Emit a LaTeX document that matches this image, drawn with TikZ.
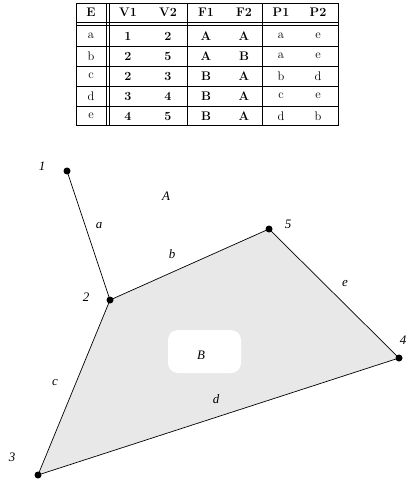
\documentclass[tikz,border=0pt]{standalone}
\usepackage{fontspec}
\newfontfamily\lblfont{Liberation Serif}
\begin{document}
\begin{tikzpicture}[x=1bp,y=-1bp,
  tline/.style={line width=0.8bp},
  cell/.style={inner sep=0pt,font=\fontsize{12.5}{14}\selectfont},
  bcell/.style={cell,font=\fontsize{12.5}{14}\selectfont\bfseries},
  vtx/.style={circle,fill=black,inner sep=0pt,minimum size=7bp},
  vlab/.style={font=\lblfont\itshape\fontsize{13}{15}\selectfont,inner sep=0pt},
  elab/.style={font=\lblfont\itshape\fontsize{13}{15}\selectfont,inner sep=0pt},
  edge/.style={line width=0.7bp}]
\useasboundingbox (0,0) rectangle (411,487);
% ---- table ----
\draw[tline] (76,3) rectangle (338,125);
\draw[tline] (76,22) -- (338,22);
\draw[tline] (76,25) -- (338,25);
\foreach \y in {46,66,86,106} \draw[tline] (76,\y) -- (338,\y);
\draw[tline] (106,3) -- (106,125);
\draw[tline] (109,3) -- (109,125);
\draw[tline] (187,3) -- (187,125);
\draw[tline] (262,3) -- (262,125);
% header
\node[bcell] (hE) at (91,12.5) {E};
\node[bcell] (hV1) at (128,12.5) {V1};
\node[bcell] (hV2) at (168,12.5) {V2};
\node[bcell] (hF1) at (206,12.5) {F1};
\node[bcell] (hF2) at (244,12.5) {F2};
\node[bcell] (hP1) at (281,12.5) {P1};
\node[bcell] (hP2) at (318,12.5) {P2};
% rows
\foreach \e/\va/\vb/\fa/\fb/\pa/\pb/\y [count=\i] in
  {a/1/2/A/A/a/e/36, b/2/5/A/B/a/e/56, c/2/3/B/A/b/d/76, d/3/4/B/A/c/e/96, e/4/5/B/A/d/b/116}{
  \node[cell] (rE\i) at (91,\y) {\e};
  \node[bcell] (rVa\i) at (128,\y) {\va};
  \node[bcell] (rVb\i) at (168,\y) {\vb};
  \node[bcell] (rFa\i) at (206,\y) {\fa};
  \node[bcell] (rFb\i) at (244,\y) {\fb};
  \node[cell] (rPa\i) at (281,\y) {\pa};
  \node[cell] (rPb\i) at (318,\y) {\pb};
}
% ---- graph ----
\coordinate (p1) at (67,171);
\coordinate (p2) at (110,300);
\coordinate (p5) at (269,229);
\coordinate (p4) at (399,358);
\coordinate (p3) at (38,475);
\fill[black!9] (p2) -- (p5) -- (p4) -- (p3) -- cycle;
\fill[white,rounded corners=10bp] (168,330) rectangle (241,373);
\draw[edge] (p1) -- (p2);
\draw[edge] (p2) -- (p5);
\draw[edge] (p5) -- (p4);
\draw[edge] (p4) -- (p3);
\draw[edge] (p3) -- (p2);
\node[vtx] (v1) at (p1) {};
\node[vtx] (v2) at (p2) {};
\node[vtx] (v5) at (p5) {};
\node[vtx] (v4) at (p4) {};
\node[vtx] (v3) at (p3) {};
\node[vlab] (l1) at (42,166) {1};
\node[vlab] (l2) at (86,297) {2};
\node[vlab] (l5) at (288,224) {5};
\node[vlab] (l4) at (403,340) {4};
\node[vlab] (l3) at (12,457) {3};
\node[elab] (ea) at (99,226) {a};
\node[elab] (eb) at (172,254) {b};
\node[elab] (ee) at (345,284) {e};
\node[elab] (ec) at (55,383) {c};
\node[elab] (ed) at (216,399) {d};
\node[elab] (fA) at (166,196) {A};
\node[elab] (fB) at (201,355) {B};
\end{tikzpicture}
\end{document}
